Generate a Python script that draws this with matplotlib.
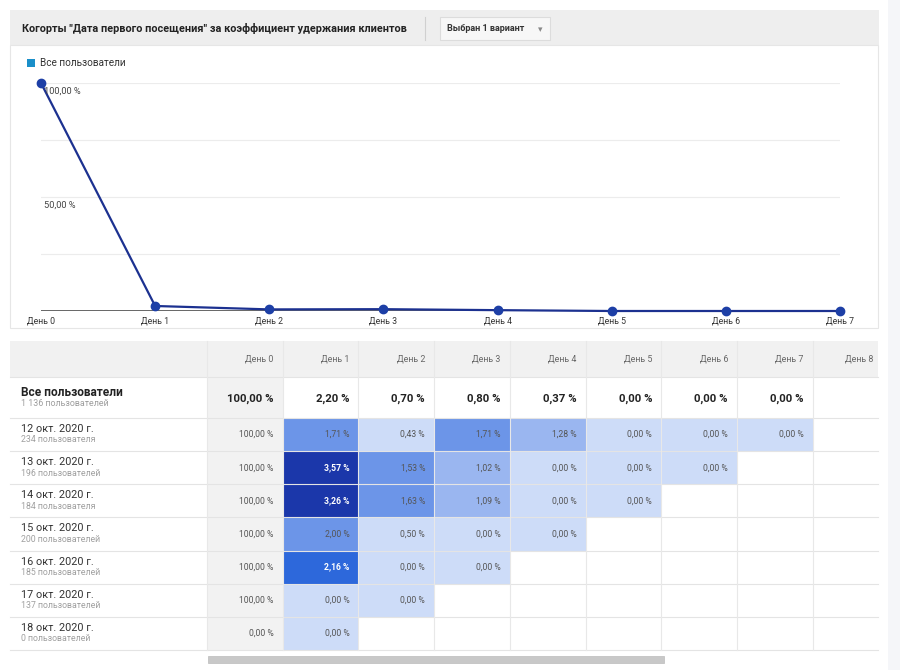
import matplotlib
matplotlib.use("Agg")
import matplotlib.pyplot as plt
from matplotlib.patches import Rectangle
from matplotlib.colors import ListedColormap, BoundaryNorm

plt.rcParams['font.family'] = ['Roboto', 'DejaVu Sans']

# данные
chart_days = ['День 0', 'День 1', 'День 2', 'День 3', 'День 4', 'День 5', 'День 6', 'День 7']
overall = [100.0, 2.20, 0.70, 0.80, 0.37, 0.0, 0.0, 0.0]
table_days = chart_days + ['День 8']
cohort_dates = ['12 окт. 2020 г.', '13 окт. 2020 г.', '14 окт. 2020 г.', '15 окт. 2020 г.',
                '16 окт. 2020 г.', '17 окт. 2020 г.', '18 окт. 2020 г.']
cohort_users = ['234 пользователя', '196 пользователей', '184 пользователя', '200 пользователей',
                '185 пользователей', '137 пользователей', '0 пользователей']
cohort_values = [
    [100.0, 1.71, 0.43, 1.71, 1.28, 0.0, 0.0, 0.0],
    [100.0, 3.57, 1.53, 1.02, 0.0, 0.0, 0.0],
    [100.0, 3.26, 1.63, 1.09, 0.0, 0.0],
    [100.0, 2.00, 0.50, 0.0, 0.0],
    [100.0, 2.16, 0.0, 0.0],
    [100.0, 0.0, 0.0],
    [0.0, 0.0],
]
total_label = 'Все пользователи'
total_users = '1 136 пользователей'
title = 'Когорты "Дата первого посещения" за коэффициент удержания клиентов'

def pct(v):
    return f'{v:.2f}'.replace('.', ',') + ' %'

heat_cmap = ListedColormap(['#cddcf8', '#9ab6f0', '#6c95e8', '#2d68db', '#1b37aa'])
heat_norm = BoundaryNorm([0, 1.0, 1.5, 2.1, 3.0, 5.0], heat_cmap.N)

fig = plt.figure(figsize=(9, 6.7), dpi=100)

# фон в пикселях
bg = fig.add_axes([0, 0, 1, 1])
bg.set_xlim(0, 900)
bg.set_ylim(670, 0)
bg.axis('off')

bg.add_patch(Rectangle((888, 0), 12, 670, color='#f5f6f9', lw=0))
bg.add_patch(Rectangle((10, 10), 869, 35, color='#eeeeee', lw=0))
bg.add_patch(Rectangle((10, 45), 868, 283, fc='white', ec='#e6e6e6', lw=0.8))
bg.text(22, 28, title, fontsize=7.85, fontweight='bold', color='#222222', va='center')
bg.plot([425, 425], [17, 40], color='#d0d0d0', lw=0.8)
bg.add_patch(Rectangle((440, 17), 110, 23, fc='#f7f7f7', ec='#dcdcdc', lw=0.8))
bg.text(447, 28.5, 'Выбран 1 вариант', fontsize=6.5, fontweight='bold', color='#333333', va='center')
bg.text(540, 29.5, '▾', fontsize=6.5, color='#888888', va='center', ha='center', family='DejaVu Sans')

# легенда
bg.add_patch(Rectangle((27, 59), 8, 8, color='#1a8fc9', lw=0))
bg.text(40, 63.5, total_label, fontsize=7.2, color='#333333', va='center')

# линейный график
ax = fig.add_axes([41 / 900, 1 - 311 / 670, (840 - 41) / 900, (311 - 83) / 670])
ax.set_xlim(0, len(chart_days) - 1)
ax.set_ylim(0, 100)
ax.axis('off')
for g in [25, 50, 75, 100]:
    ax.axhline(g, color='#ececec', lw=0.8, zorder=0)
ax.axhline(0, color='#666666', lw=1.4, zorder=1)
ax.plot(range(len(chart_days)), overall, color='#1c3190', lw=1.6, marker='o',
        markersize=6, markerfacecolor='#1d3fa6', markeredgecolor='#1d3fa6', clip_on=False, zorder=3)
for i, d in enumerate(chart_days):
    ax.text(i, -2.5, d, fontsize=6.3, color='#333333', ha='center', va='top')
ax.text(0.03, 98.5, '100,00 %', fontsize=6.7, color='#444444', va='top')
ax.text(0.03, 48.5, '50,00 %', fontsize=6.7, color='#444444', va='top')

# таблица
col0 = 207
cw = 75.7
head_top, head_bot = 341, 377
tot_bot = 418
rh = (650 - 418) / len(cohort_dates)
right = 878

bg.add_patch(Rectangle((10, head_top), right - 10, head_bot - head_top, color='#f1f1f1', lw=0))
bg.add_patch(Rectangle((col0, head_bot), cw, 650 - head_bot, color='#f2f2f2', lw=0))

for j, d in enumerate(table_days):
    x1 = col0 + (j + 1) * cw
    bg.text(min(x1, right + 4) - 9, (head_top + head_bot) / 2, d, fontsize=6.4, color='#666666',
            ha='right', va='center')

# итоговая строка
bg.text(21, 392, total_label, fontsize=8.6, fontweight='bold', color='#222222', va='center')
bg.text(21, 404, total_users, fontsize=6.4, color='#9e9e9e', va='center')
for j, v in enumerate(overall):
    bg.text(col0 + (j + 1) * cw - 9, (head_bot + tot_bot) / 2 + 1, pct(v), fontsize=8.2,
            fontweight='bold', color='#222222', ha='right', va='center')

# когорты
for i, row in enumerate(cohort_values):
    y0 = tot_bot + i * rh
    bg.text(21, y0 + 11, cohort_dates[i], fontsize=7.8, color='#333333', va='center')
    bg.text(21, y0 + 22, cohort_users[i], fontsize=6.3, color='#a0a0a0', va='center')
    for j, v in enumerate(row):
        x0 = col0 + j * cw
        tcol = '#555555'
        weight = 'normal'
        if j > 0:
            bg.add_patch(Rectangle((x0, y0), cw, rh, color=heat_cmap(heat_norm(v)), lw=0))
            if v >= 2.1:
                tcol = 'white'
                weight = 'bold'
        bg.text(x0 + cw - 9, y0 + rh / 2, pct(v), fontsize=6.2, color=tcol,
                fontweight=weight, ha='right', va='center')

# линии сетки таблицы
lines_y = [head_bot, tot_bot] + [tot_bot + (i + 1) * rh for i in range(len(cohort_dates))]
for y in lines_y:
    bg.plot([10, right], [y, y], color='#e4e4e4', lw=0.8)
for j in range(len(table_days)):
    x = col0 + j * cw
    bg.plot([x, x], [head_top, 650], color='#e8e8e8', lw=0.8)

# полоса прокрутки
bg.add_patch(Rectangle((208, 656), 456, 7, fc='#c8c8c8', ec='#bbbbbb', lw=0.5))

fig.savefig('out.png', dpi=100)
